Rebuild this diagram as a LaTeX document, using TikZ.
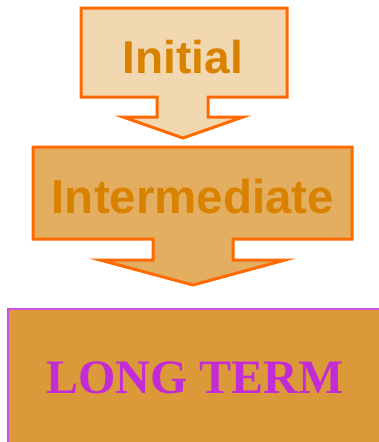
\documentclass[tikz,border=0pt]{standalone}
\usepackage{fontspec}
\setmainfont{Liberation Sans}
\newfontfamily\serifbold{Liberation Serif}
\definecolor{edgeorange}{HTML}{FF6A00}
\definecolor{fillpale}{HTML}{F2D8B0}
\definecolor{fillmid}{HTML}{E3AE60}
\definecolor{filldeep}{HTML}{DB993A}
\definecolor{textorange}{HTML}{D98200}
\definecolor{textpurple}{HTML}{C22CD6}
\definecolor{edgepurple}{HTML}{CC4FDD}
\tikzset{
  callout/.style={draw=edgeorange, line width=3pt, line join=miter},
  steplabel/.style={font=\bfseries\fontsize{46}{50}\selectfont, text=textorange, inner sep=0pt},
  goalbox/.style={draw=edgepurple, line width=1.6pt, fill=filldeep},
  goallabel/.style={font=\serifbold\bfseries\fontsize{48}{52}\selectfont, text=textpurple, inner sep=0pt}
}
\begin{document}
\begin{tikzpicture}[x=1pt, y=-1pt]
\useasboundingbox (0,0) rectangle (379,442);
\clip (0,0) rectangle (379,442);
% first stage: box with a down arrow
\draw[callout, fill=fillpale]
  (81,8) -- (287,8) -- (287,97) -- (208,97) -- (208,117) -- (243,117)
  -- (183,138) -- (123,117) -- (157,117) -- (157,97) -- (81,97) -- cycle;
\node[steplabel] (initial) at (183,57) {Initial};
% second stage
\draw[callout, fill=fillmid]
  (33,147) -- (352,147) -- (352,239) -- (233,239) -- (233,260) -- (285,260)
  -- (193,285) -- (100,260) -- (153,260) -- (153,239) -- (33,239) -- cycle;
\node[steplabel, font=\bfseries\fontsize{47.5}{50}\selectfont] (intermediate) at (193,197) {Intermediate};
% final stage, running past the right and bottom edges
\draw[goalbox] (8,309) rectangle (390,460);
\node[goallabel] (longterm) at (195,378) {LONG TERM};
\end{tikzpicture}
\end{document}
